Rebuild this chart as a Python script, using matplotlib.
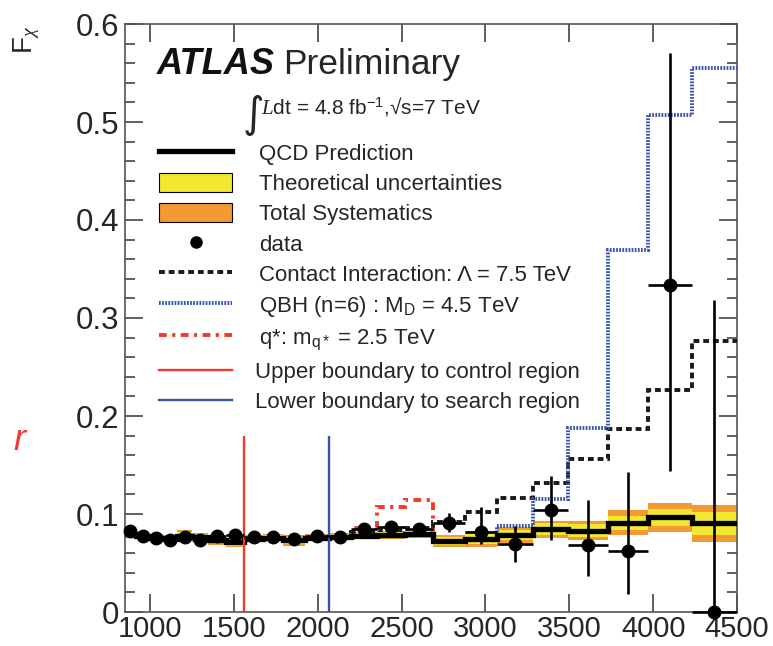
import numpy as np
import matplotlib
matplotlib.use("Agg")
import matplotlib.pyplot as plt
from matplotlib.lines import Line2D
from matplotlib.patches import Patch
from matplotlib.ticker import MultipleLocator

plt.rcParams['font.family'] = ['Liberation Sans', 'DejaVu Sans']
plt.rcParams['mathtext.fontset'] = 'custom'
plt.rcParams['mathtext.rm'] = 'Liberation Sans'
plt.rcParams['mathtext.it'] = 'Liberation Serif:italic'

# --- mass bins (GeV) ---
edges = [850, 915, 995, 1075, 1160, 1250, 1345, 1450, 1560, 1675, 1795, 1925,
         2065, 2200, 2355, 2520, 2687, 2878, 3069, 3284, 3492, 3730, 3969,
         4229, 4500]

# --- measured F_chi ---
fchi_data = [0.0827, 0.0779, 0.0752, 0.0735, 0.0769, 0.0735, 0.0776, 0.0786,
             0.0769, 0.0769, 0.0741, 0.0776, 0.0769, 0.0845, 0.0864, 0.0844,
             0.0911, 0.082, 0.069, 0.104, 0.068, 0.0626, 0.334, 0.0]
err_up = [0.002, 0.002, 0.002, 0.002, 0.002, 0.002, 0.002, 0.002, 0.002, 0.002,
          0.002, 0.002, 0.003, 0.004, 0.004, 0.005, 0.010, 0.025, 0.019, 0.035,
          0.046, 0.080, 0.236, 0.318]
err_dn = [0.002, 0.002, 0.002, 0.002, 0.002, 0.002, 0.002, 0.002, 0.002, 0.002,
          0.002, 0.002, 0.003, 0.004, 0.004, 0.005, 0.009, 0.013, 0.018, 0.031,
          0.031, 0.044, 0.190, 0.0]

# --- QCD prediction and uncertainties (half widths) ---
qcd = [0.080, 0.078, 0.076, 0.075, 0.078, 0.077, 0.073, 0.071, 0.075, 0.076,
       0.073, 0.076, 0.077, 0.078, 0.079, 0.080, 0.0724, 0.0742, 0.0786, 0.0844,
       0.083, 0.0911, 0.0966, 0.0905]
theo_unc = [0.003, 0.003, 0.003, 0.003, 0.004, 0.003, 0.003, 0.004, 0.003, 0.003,
            0.004, 0.003, 0.003, 0.003, 0.003, 0.003, 0.004, 0.005, 0.005, 0.006,
            0.0065, 0.007, 0.009, 0.012]
syst_unc = [0.004, 0.004, 0.004, 0.004, 0.006, 0.004, 0.005, 0.005, 0.004, 0.004,
            0.006, 0.004, 0.004, 0.004, 0.004, 0.004, 0.006, 0.008, 0.008, 0.0085,
            0.0095, 0.0128, 0.015, 0.019]

# --- signal models ---
contact = [0.080, 0.078, 0.076, 0.075, 0.078, 0.077, 0.073, 0.071, 0.075, 0.076,
           0.073, 0.076, 0.077, 0.082, 0.084, 0.086, 0.092, 0.102, 0.116, 0.132,
           0.156, 0.187, 0.2265, 0.2765]
qbh = [0.080, 0.078, 0.076, 0.075, 0.078, 0.077, 0.073, 0.071, 0.075, 0.076,
       0.073, 0.076, 0.077, 0.078, 0.079, 0.080, 0.0724, 0.0742, 0.0878, 0.115,
       0.188, 0.369, 0.507, 0.555]
qstar = [0.080, 0.078, 0.076, 0.075, 0.078, 0.077, 0.073, 0.071, 0.075, 0.076,
         0.073, 0.076, 0.077, 0.086, 0.1075, 0.1143, 0.0724, 0.0742, 0.0786, 0.0844,
         0.083, 0.0911, 0.0966, 0.0905]

control_upper = 1560
search_lower = 2065
boundary_top = 0.18

yticks = [0, 0.1, 0.2, 0.3, 0.4, 0.5, 0.6]
ytick_labels = ["0", "0.1", "0.2", "0.3", "0.4", "0.5", "0.6"]
xticks = [1000, 1500, 2000, 2500, 3000, 3500, 4000, 4500]

YELLOW = '#f2e830'
ORANGE = '#f39a32'
BLUE = '#3553ad'
RED = '#ef3b2c'
TXT = '#262626'

CI_STYLE = (0, (1.5, 1.0))
QBH_STYLE = (0, (0.45, 0.35))
QSTAR_STYLE = (0, (2.0, 1.4, 0.8, 1.4))

edges_a = np.array(edges)
centers = 0.5 * (edges_a[1:] + edges_a[:-1])
halfw = 0.5 * (edges_a[1:] - edges_a[:-1])
qcd_a = np.array(qcd)
theo_a = np.array(theo_unc)
syst_a = np.array(syst_unc)

fig = plt.figure(figsize=(7.73, 6.46), dpi=100)
ax = fig.add_axes([125 / 773, 1 - 612 / 646, 612 / 773, 588 / 646])

# uncertainty bands
ax.stairs(qcd_a + syst_a, edges, baseline=qcd_a - syst_a, fill=True, color=ORANGE, lw=0, zorder=1)
ax.stairs(qcd_a + theo_a, edges, baseline=qcd_a - theo_a, fill=True, color=YELLOW, lw=0, zorder=2)

# signal models
ax.stairs(qstar, edges, color=RED, lw=2.8, ls=QSTAR_STYLE, baseline=None, zorder=3)
ax.stairs(contact, edges, color='#1a1a1a', lw=2.8, ls=CI_STYLE, baseline=None, zorder=3)
ax.stairs(qbh, edges, color=BLUE, lw=2.8, ls=QBH_STYLE, baseline=None, zorder=3)

# QCD prediction
ax.stairs(qcd, edges, color='black', lw=3.8, baseline=None, zorder=4)

# region boundaries
ax.vlines([control_upper], 0, boundary_top, color=RED, lw=1.7, zorder=5)
ax.vlines([search_lower], 0, boundary_top, color=BLUE, lw=1.7, zorder=5)

# data
ax.errorbar(centers, fchi_data, xerr=halfw, yerr=[err_dn, err_up], fmt='o',
            color='black', ms=9, elinewidth=1.9, capsize=0, zorder=6, clip_on=False)

ax.set_xlim(edges[0], edges[-1])
ax.set_ylim(0, 0.6)
ax.set_xticks(xticks)
ax.set_yticks(yticks)
ax.set_yticklabels(ytick_labels)
ax.yaxis.set_minor_locator(MultipleLocator(0.02))
ax.tick_params(which='both', direction='in', top=True, right=True,
               labelsize=22.5, labelcolor=TXT, color='#444444', width=1.2)
ax.tick_params(which='major', length=13, pad=4)
ax.tick_params(axis='x', labelsize=21, pad=2)
ax.tick_params(which='minor', length=7)
for s in ax.spines.values():
    s.set_color('#555555')
    s.set_linewidth(1.2)

fig.text(27 / 773, 1 - 40 / 646, r"F$_\chi$", rotation=90, fontsize=20,
         ha='center', va='center', color=TXT)

# labels
ax.text(0.052, 0.915, "ATLAS", transform=ax.transAxes, fontsize=26,
        fontweight='bold', style='italic', va='baseline', color='#111111')
ax.text(0.258, 0.915, "Preliminary", transform=ax.transAxes, fontsize=25.5,
        va='baseline', color=TXT)
ax.text(0.193, 0.824, "\u222b", transform=ax.transAxes, fontsize=30,
        family='DejaVu Sans', va='baseline', color=TXT)
ax.text(0.222, 0.8486, r"$\mathit{L}$dt = 4.8 fb$^{-1}$," + "\u221as=7 TeV",
        transform=ax.transAxes, fontsize=15, va='baseline', color=TXT)

handles1 = [
    Line2D([], [], color='black', lw=3.8),
    Patch(facecolor=YELLOW, edgecolor='black', lw=0.8),
    Patch(facecolor=ORANGE, edgecolor='black', lw=0.8),
    Line2D([], [], color='black', marker='o', ms=8, ls='none'),
    Line2D([], [], color='#1a1a1a', lw=2.8, ls=CI_STYLE),
    Line2D([], [], color=BLUE, lw=2.8, ls=QBH_STYLE),
    Line2D([], [], color=RED, lw=2.8, ls=QSTAR_STYLE),
]
labels1 = [
    "QCD Prediction",
    "Theoretical uncertainties",
    "Total Systematics",
    "data",
    "Contact Interaction: \u039b = 7.5 TeV",
    r"QBH (n=6) : M$_{\rm D}$ = 4.5 TeV",
    r"q*: m$_{\rm q*}$ = 2.5 TeV",
]
leg1 = ax.legend(handles1, labels1, loc='upper left', bbox_to_anchor=(0.0556, 0.798),
                 frameon=False, fontsize=16, handlelength=3.3, handleheight=0.95,
                 handletextpad=1.2, labelspacing=0.36, borderpad=0, borderaxespad=0,
                 labelcolor=TXT)
ax.add_artist(leg1)

handles2 = [Line2D([], [], color=RED, lw=1.7), Line2D([], [], color=BLUE, lw=1.7)]
labels2 = ["Upper boundary to control region", "Lower boundary to search region"]
ax.legend(handles2, labels2, loc='upper left', bbox_to_anchor=(0.0556, 0.427),
          frameon=False, fontsize=16, handlelength=3.3, handleheight=0.95,
          handletextpad=1.0, labelspacing=0.36, borderpad=0, borderaxespad=0,
          labelcolor=TXT)

fig.text(19 / 773, 1 - 450 / 646, "r", color=RED, fontsize=26, style='italic',
         ha='center', va='baseline')

fig.savefig("out.png", dpi=100)
